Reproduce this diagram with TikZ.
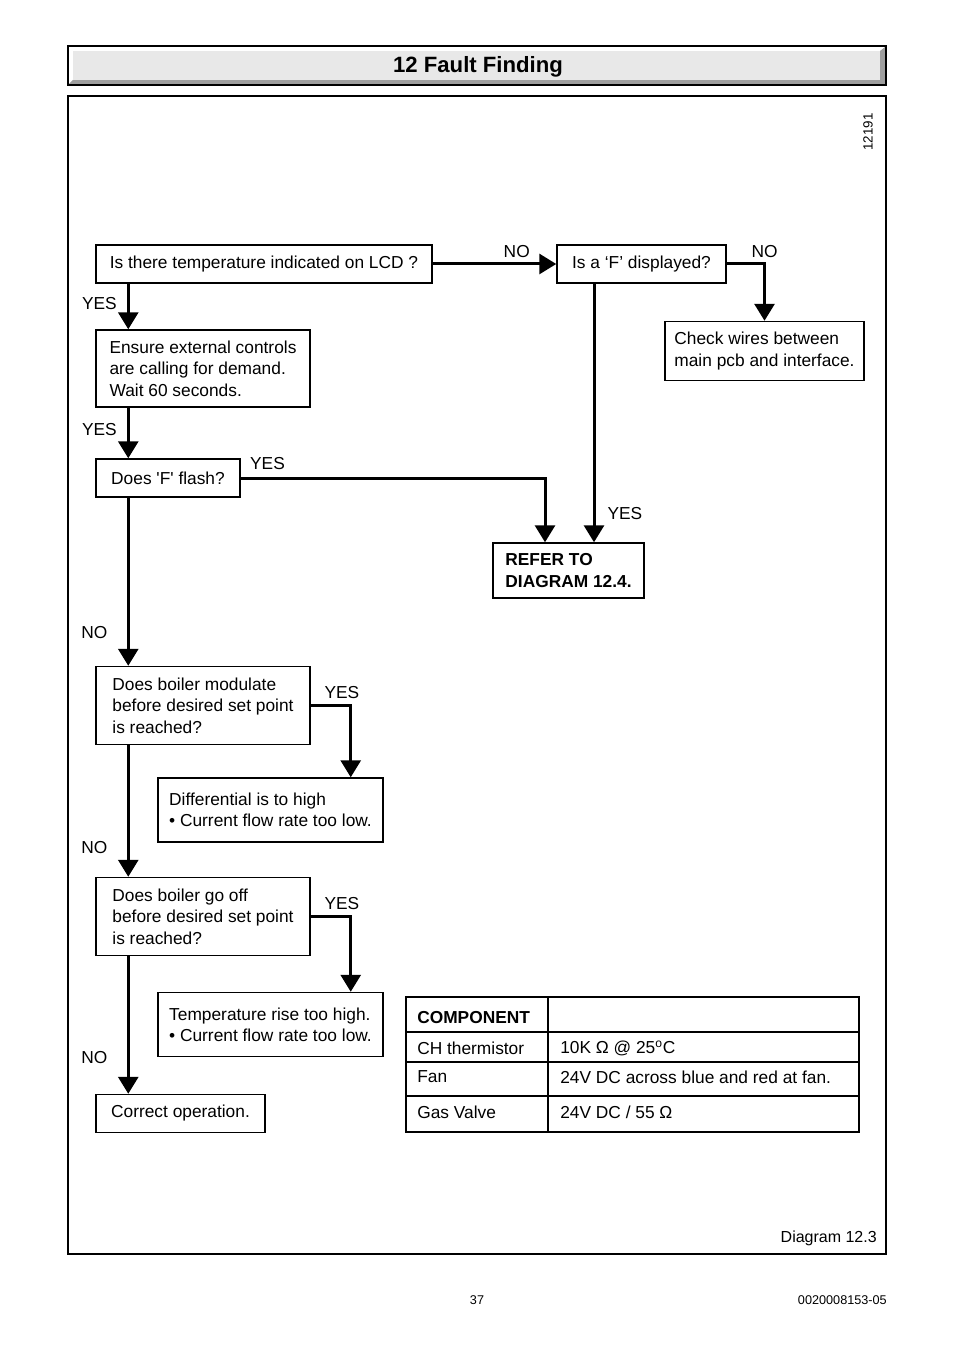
\documentclass[tikz,border=0pt]{standalone}
\usepackage{fontspec}
\setmainfont{Liberation Sans}
\usetikzlibrary{arrows.meta,calc}
\begin{document}
\begin{tikzpicture}[x=0.75pt,y=-0.75pt,
    box/.style={draw=black,line width=1.1pt,align=left,inner sep=0pt,font=\fontsize{13}{16}\selectfont},
    flow/.style={line width=2.25pt,-{Triangle[width=15pt,length=12.75pt]}},
    lbl/.style={font=\fontsize{13}{16}\selectfont,inner sep=0pt},
    cell/.style={anchor=west,inner sep=0pt,font=\fontsize{13}{16}\selectfont}]
  \useasboundingbox (0,0) rectangle (954,1351);

  % title bar
  \fill[white] (68,46) rectangle (886,85);
  \fill[black!38] (69,84) -- (73,80) -- (880,80) -- (880,51) -- (885,47) -- (885,84) -- cycle;
  \fill[black!9] (73,51) rectangle (880,80);
  \draw[line width=1pt] (68,46) rectangle (886,85);
  \node[font=\fontsize{16.6}{20}\selectfont\bfseries] (title) at (478,67) {12 Fault Finding};

  % frame
  \draw[line width=0.9pt] (68,96) rectangle (886,1254);
  \node[rotate=90,font=\fontsize{10}{12}\selectfont] (drawno) at (868,132) {12191};

  \node[box,minimum width=252pt,minimum height=28.5pt] (lcd) at (264,264) {Is there temperature indicated on LCD ?};
  \node[box,minimum width=126.75pt,minimum height=28.5pt] (fshown) at (641.5,264) {Is a ‘F’ displayed?};
  \node[box,minimum width=149.25pt,minimum height=44.25pt] (wires) at (764.5,351) {Check wires between\\main pcb and interface.};
  \node[box,minimum width=160.5pt,minimum height=57.75pt] (demand) at (203,368.5) {Ensure external controls\\are calling for demand.\\Wait 60 seconds.};
  \node[box,minimum width=108pt,minimum height=28.5pt] (fflash) at (168,478) {Does \textquotesingle F\textquotesingle{} flash?};
  \node[box,minimum width=113.25pt,minimum height=41.25pt,font=\fontsize{13}{16}\selectfont\bfseries] (refer) at (568.5,570.5) {REFER TO\\DIAGRAM 12.4.};
  \node[box,minimum width=160.5pt,minimum height=58.5pt] (modulate) at (203,705.5) {Does boiler modulate\\before desired set point\\is reached?};
  \node[box,minimum width=168.75pt,minimum height=48pt] (differential) at (270.5,810) {Differential is to high\\• Current flow rate too low.};
  \node[box,minimum width=160.5pt,minimum height=58.5pt] (gooff) at (203,916.5) {Does boiler go off\\before desired set point\\is reached?};
  \node[box,minimum width=168.75pt,minimum height=48pt] (temprise) at (270.5,1024.5) {Temperature rise too high.\\• Current flow rate too low.};
  \node[box,minimum width=126.75pt,minimum height=28.5pt] (correct) at (180.5,1113.5) {Correct operation.};

  \coordinate (spine) at ($(lcd.south west)+(33,0)$);
  \coordinate (rx) at ($(refer.north)+(25.5,0)$);

  \draw[flow] (lcd.east) -- node[lbl,pos=0.68,above=3.5pt] (no1) {NO} (fshown.west);
  \draw[flow] (fshown.east) -| node[lbl,pos=0.5,above=3.5pt] (no2) {NO} (wires.north);
  \draw[flow] (spine |- lcd.south) -- node[lbl,pos=0.44,left=7.5pt] (yes1) {YES} (spine |- demand.north);
  \draw[flow] (spine |- demand.south) -- node[lbl,pos=0.44,left=7.5pt] (yes2) {YES} (spine |- fflash.north);
  \draw[flow] (fflash.east) -| node[lbl,pos=0.044,above=5pt] (yes3) {YES} ($(refer.north)+(-23.5,0)$);
  \draw[flow] (fshown.south -| rx) -- node[lbl,pos=0.89,right=9pt] (yes4) {YES} (rx);
  \draw[flow] (spine |- fflash.south) -- node[lbl,pos=0.8,left=14.5pt] (no3) {NO} (spine |- modulate.north);
  \draw[flow] (modulate.east) -| node[lbl,pos=0.39,above=4pt] (yes5) {YES} ($(differential.north east)+(-33,0)$);
  \draw[flow] (spine |- modulate.south) -- node[lbl,pos=0.78,left=14.5pt] (no4) {NO} (spine |- gooff.north);
  \draw[flow] (gooff.east) -| node[lbl,pos=0.39,above=4pt] (yes6) {YES} ($(temprise.north east)+(-33,0)$);
  \draw[flow] (spine |- gooff.south) -- node[lbl,pos=0.74,left=14.5pt] (no5) {NO} (spine |- correct.north);

  % component table
  \draw[line width=1pt] (406,997) rectangle (859,1132);
  \draw[line width=1pt] (548,997) -- (548,1132);
  \foreach \ry in {1032,1062,1096}
    \draw[line width=1pt] (406,\ry) -- (859,\ry);
  \node[cell,font=\fontsize{13}{16}\selectfont\bfseries] (comphead) at (417,1018) {COMPONENT};
  \node[cell] (chname) at (417,1048) {CH thermistor};
  \node[cell] (chval) at (560,1048) {10K Ω @ 25\textsuperscript{o}C};
  \node[cell] (fanname) at (417,1077) {Fan};
  \node[cell] (fanval) at (560,1077) {24V DC across blue and red at fan.};
  \node[cell] (gasname) at (417,1112) {Gas Valve};
  \node[cell] (gasval) at (560,1112) {24V DC / 55 Ω};

  \node[anchor=east,inner sep=0pt,font=\fontsize{12}{14}\selectfont] (diagno) at (877,1238) {Diagram 12.3};
  \node[inner sep=0pt,font=\fontsize{9.5}{12}\selectfont] (pageno) at (477,1300) {37};
  \node[anchor=east,inner sep=0pt,font=\fontsize{9.5}{12}\selectfont] (docno) at (887,1300) {0020008153-05};
\end{tikzpicture}
\end{document}
